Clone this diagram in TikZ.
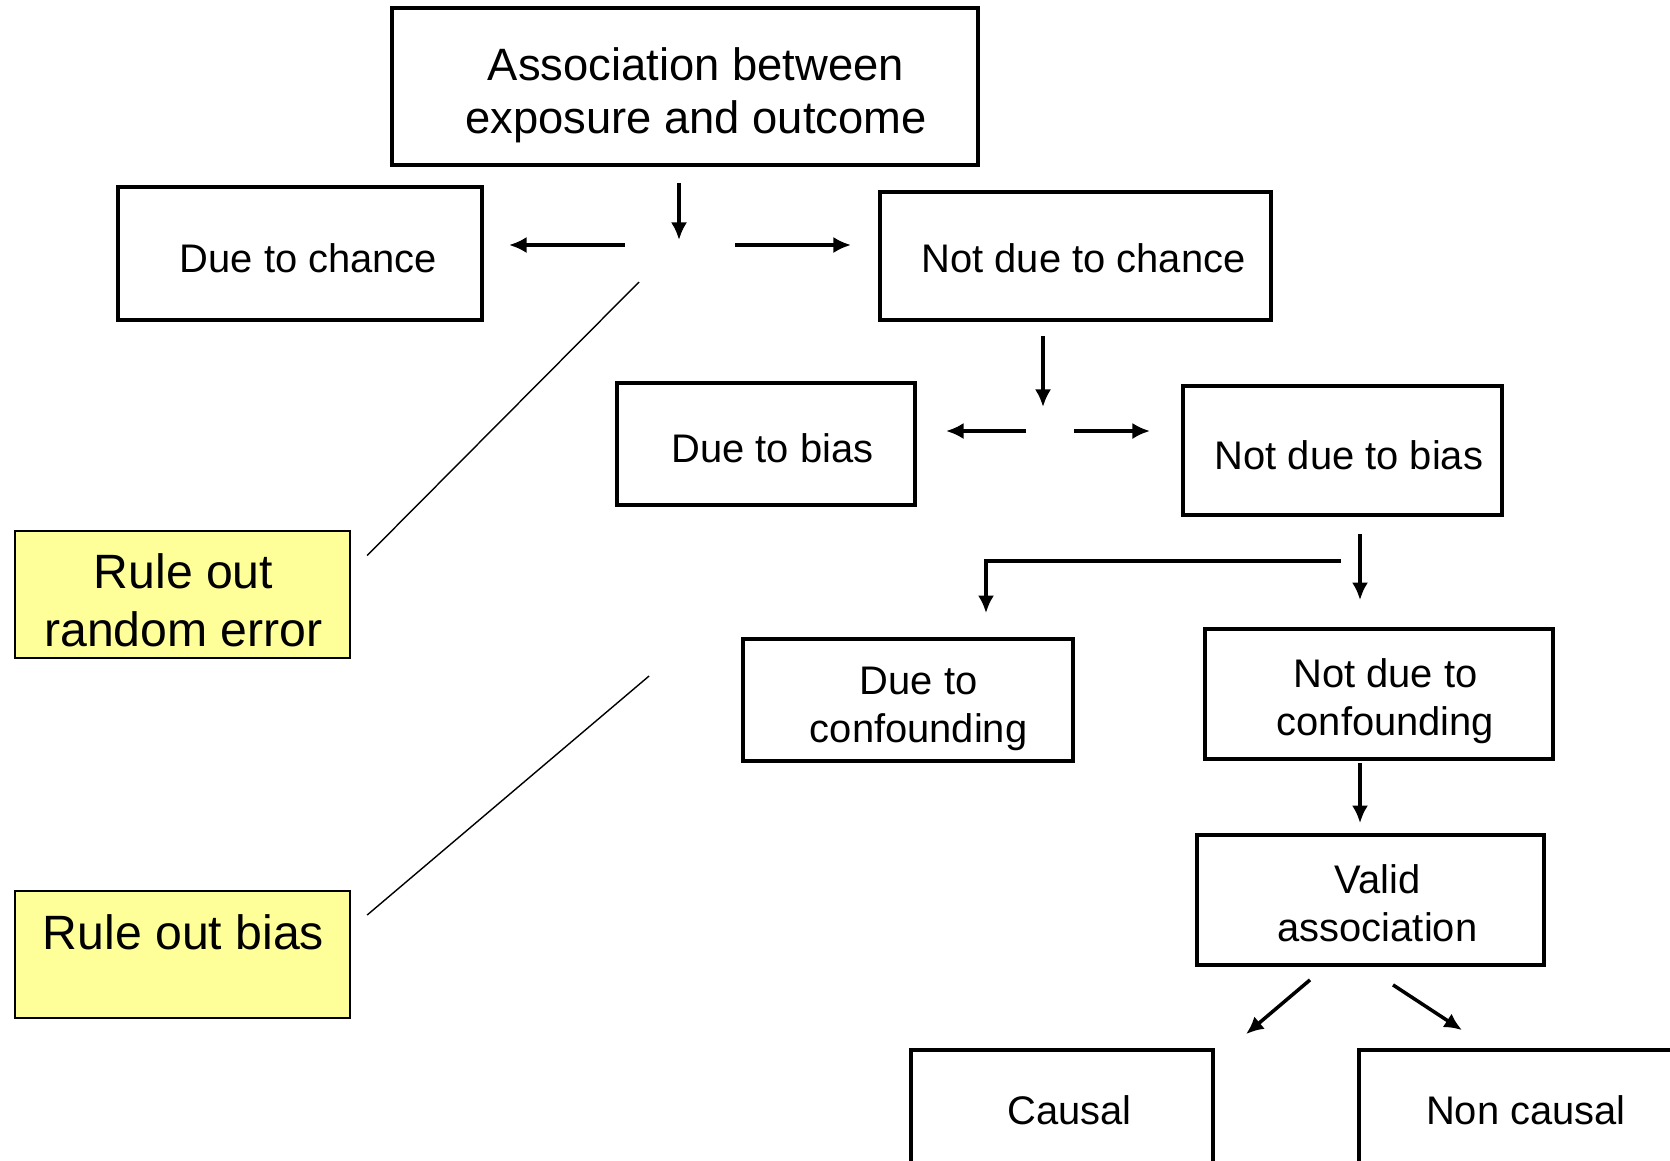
\documentclass[tikz,border=0pt]{standalone}
\usepackage{fontspec}
\setmainfont{Liberation Sans}
\usepackage{xcolor}
\usetikzlibrary{calc}
\usetikzlibrary{arrows.meta}
\definecolor{ruleyellow}{HTML}{FFFF99}
\tikzset{
  box/.style={draw, line width=1.05pt, inner sep=0pt},
  txt/.style={align=center, inner sep=0pt, font=\fontsize{11.35}{13.7}\selectfont},
  rulebox/.style={draw, line width=0.6pt, fill=ruleyellow, inner sep=0pt,
    minimum width=3.35cm, minimum height=1.27cm},
  ruletxt/.style={align=center, inner sep=0pt, font=\fontsize{13.7}{16.4}\selectfont},
  arr/.style={line width=1pt, -{Latex[length=5pt,width=4.6pt]}},
  pointer/.style={line width=0.4pt}
}

\begin{document}
\begin{tikzpicture}[x=0.01cm,y=-0.01cm]
\useasboundingbox (0,0) rectangle (1670,1160);
\coordinate (j1) at (679,245);
\coordinate (j2) at (1043,431);
\coordinate (j3) at (1360,561);
\coordinate (j4) at (986,561);
\node[box, minimum width=5.86cm, minimum height=1.57cm] (assoc) at (685,86.5) {};
\node[box, minimum width=3.64cm, minimum height=1.33cm] (chance) at (300,253.5) {};
\node[box, minimum width=3.91cm, minimum height=1.28cm] (notchance) at (1075.5,256) {};
\node[box, minimum width=2.98cm, minimum height=1.22cm] (bias) at (766,444) {};
\node[box, minimum width=3.19cm, minimum height=1.29cm] (notbias) at (1342.5,450.5) {};
\node[box, minimum width=3.30cm, minimum height=1.22cm] (conf) at (908,700) {};
\node[box, minimum width=3.48cm, minimum height=1.30cm] (notconf) at (1379,694) {};
\node[box, minimum width=3.47cm, minimum height=1.30cm] (valid) at (1370.5,900) {};
\node[box, minimum width=3.02cm, minimum height=1.25cm] (causal) at (1062,1112.5) {};
\node[box, minimum width=3.32cm, minimum height=1.25cm] (noncausal) at (1525,1112.5) {};
\node[rulebox] (rule1) at (182.5,594.5) {};
\node[rulebox] (rule2) at (182.5,954.5) {};
\node[txt, font=\fontsize{12.9}{15.1}\selectfont] (assoc-t) at ($(assoc)+(11,8.5)$) {Association between\\exposure and outcome};
\node[txt] (chance-t) at ($(chance)+(8.5,4.3)$) {Due to chance};
\node[txt] (notchance-t) at ($(notchance)+(8,2)$) {Not due to chance};
\node[txt] (bias-t) at ($(bias)+(6.4,4.3)$) {Due to bias};
\node[txt] (notbias-t) at ($(notbias)+(6.4,4.3)$) {Not due to bias};
\node[txt] (conf-t) at ($(conf)+(10.6,9)$) {Due to\\confounding};
\node[txt] (notconf-t) at ($(notconf)+(6.4,7.5)$) {Not due to\\confounding};
\node[txt] (valid-t) at ($(valid)+(7,3.2)$) {Valid\\association};
\node[txt] (causal-t) at ($(causal)+(7.5,-2)$) {Causal};
\node[txt] (noncausal-t) at ($(noncausal)+(1,-2)$) {Non causal};
\node[ruletxt] (rule1-t) at ($(rule1)+(1,6)$) {Rule out\\random error};
\node[ruletxt] (rule2-t) at ($(rule2)+(1,6.4)$) {Rule out bias\\\phantom{R}};
\draw[arr, shorten <=0.16cm, shorten >=0.05cm] (assoc.south -| j1) -- (j1);
\draw[arr, shorten <=0.54cm, shorten >=0.25cm] (j1) -- (chance.east |- j1);
\draw[arr, shorten <=0.56cm, shorten >=0.27cm] (j1) -- (notchance.west |- j1);
\draw[arr, shorten <=0.14cm, shorten >=0.24cm] (notchance.south -| j2) -- (j2);
\draw[arr, shorten <=0.17cm, shorten >=0.29cm] (j2) -- (bias.east |- j2);
\draw[arr, shorten <=0.31cm, shorten >=0.31cm] (j2) -- (notbias.west |- j2);
\draw[arr, shorten <=0.17cm, shorten >=0.27cm] (notbias.south -| j3) -- (notconf.north -| j3);
\draw[arr, shorten <=0.19cm, shorten >=0.24cm] (j3) -- (j4) -- (conf.north -| j4);
\draw[arr, shorten <=0.02cm, shorten >=0.10cm] (notconf.south -| j3) -- (valid.north -| j3);
\draw[arr] ($(valid.south)+(-60.5,13)$) -- ($(causal.north)+(184,-14)$);
\draw[arr] ($(valid.south)+(22.5,18)$) -- ($(noncausal.north)+(-63,-18)$);
\draw[pointer] ($(j1)+(-40,37)$) -- ($(rule1.east)+(16,-39)$);
\draw[pointer] ($(conf.west)+(-92,-24)$) -- ($(rule2.east)+(16,-39.5)$);
\end{tikzpicture}
\end{document}
